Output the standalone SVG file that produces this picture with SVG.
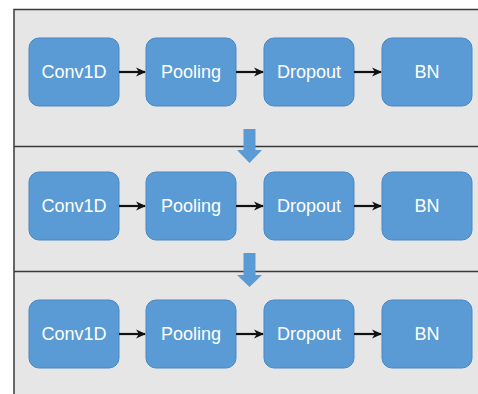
<svg xmlns="http://www.w3.org/2000/svg" width="478" height="394" viewBox="0 0 478 394">
<defs>
<style>
.box{fill:#5b9bd5;stroke:#4a87c2;stroke-width:1}
.lbl{font-family:"Liberation Sans",Arial,sans-serif;font-size:18px;fill:#ffffff;text-anchor:middle;dominant-baseline:central}
.conn{stroke:#111;stroke-width:2.2;fill:none;marker-end:url(#ah)}
.sep{stroke:#3a3a3a;stroke-width:1.5;fill:none}
.down{fill:#5b9bd5;stroke:none}
</style>
<marker id="ah" viewBox="0 0 10 10" refX="9" refY="5" markerWidth="4.6" markerHeight="4.6" orient="auto" markerUnits="strokeWidth">
<path d="M0,0.5 L10,5 L0,9.5 L3,5 Z" fill="#111"/>
</marker>
</defs>
<rect x="0" y="0" width="478" height="394" fill="#ffffff"/>
<rect x="14" y="9" width="464" height="385" fill="#e6e6e6"/>
<g id="frame">
<path class="sep" d="M14,394 V9.5 H478"/>
<path class="sep" d="M14,146.5 H478"/>
<path class="sep" d="M14,271.5 H478"/>
</g>
<g id="r1-conv"><rect class="box" x="29" y="38" width="90" height="68" rx="10"/><text class="lbl" x="74" y="72">Conv1D</text></g>
<g id="r1-pool"><rect class="box" x="146" y="38" width="90" height="68" rx="10"/><text class="lbl" x="191" y="72">Pooling</text></g>
<g id="r1-drop"><rect class="box" x="264" y="38" width="90" height="68" rx="10"/><text class="lbl" x="309" y="72">Dropout</text></g>
<g id="r1-bn"><rect class="box" x="382" y="38" width="90" height="68" rx="10"/><text class="lbl" x="427" y="72">BN</text></g>
<g id="r2-conv"><rect class="box" x="29" y="172" width="90" height="68" rx="10"/><text class="lbl" x="74" y="206">Conv1D</text></g>
<g id="r2-pool"><rect class="box" x="146" y="172" width="90" height="68" rx="10"/><text class="lbl" x="191" y="206">Pooling</text></g>
<g id="r2-drop"><rect class="box" x="264" y="172" width="90" height="68" rx="10"/><text class="lbl" x="309" y="206">Dropout</text></g>
<g id="r2-bn"><rect class="box" x="382" y="172" width="90" height="68" rx="10"/><text class="lbl" x="427" y="206">BN</text></g>
<g id="r3-conv"><rect class="box" x="29" y="300" width="90" height="68" rx="10"/><text class="lbl" x="74" y="334">Conv1D</text></g>
<g id="r3-pool"><rect class="box" x="146" y="300" width="90" height="68" rx="10"/><text class="lbl" x="191" y="334">Pooling</text></g>
<g id="r3-drop"><rect class="box" x="264" y="300" width="90" height="68" rx="10"/><text class="lbl" x="309" y="334">Dropout</text></g>
<g id="r3-bn"><rect class="box" x="382" y="300" width="90" height="68" rx="10"/><text class="lbl" x="427" y="334">BN</text></g>
<g id="connectors">
<line class="conn" x1="119" y1="72" x2="145" y2="72"/>
<line class="conn" x1="236" y1="72" x2="263" y2="72"/>
<line class="conn" x1="354" y1="72" x2="381" y2="72"/>
<line class="conn" x1="119" y1="206" x2="145" y2="206"/>
<line class="conn" x1="236" y1="206" x2="263" y2="206"/>
<line class="conn" x1="354" y1="206" x2="381" y2="206"/>
<line class="conn" x1="119" y1="334" x2="145" y2="334"/>
<line class="conn" x1="236" y1="334" x2="263" y2="334"/>
<line class="conn" x1="354" y1="334" x2="381" y2="334"/>
<path class="down" d="M243.5,129 H255.5 V150 H262 L249.5,163 L237,150 H243.5 Z"/>
<path class="down" d="M243.5,253 H255.5 V275 H262 L249.5,287 L237,275 H243.5 Z"/>
</g>
</svg>
